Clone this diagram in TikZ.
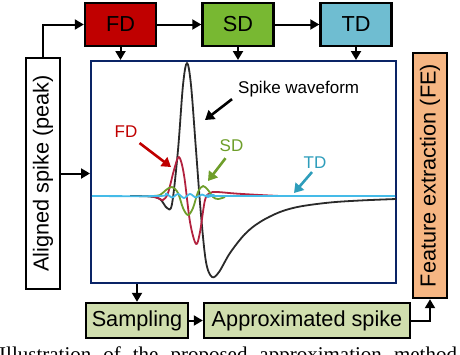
\documentclass[tikz,border=0pt]{standalone}
\usepackage{fontspec}
\setmainfont{Liberation Sans}
\newfontfamily\capfont{Liberation Serif}
\usetikzlibrary{arrows.meta,positioning}
\definecolor{fdred}{HTML}{C00000}
\definecolor{sdgreen}{HTML}{78B832}
\definecolor{tdblue}{HTML}{6FBDD1}
\definecolor{smpgreen}{HTML}{D0DEAE}
\definecolor{feorange}{HTML}{F6B683}
\definecolor{frameblue}{HTML}{0A2466}
\definecolor{wavered}{HTML}{B2223F}
\definecolor{wavegreen}{HTML}{6E9E2A}
\definecolor{wavecyan}{HTML}{45BBE8}
\definecolor{tdlabel}{HTML}{2E9DBB}
\definecolor{waveblack}{HTML}{2A2A2A}
\tikzset{
  blk/.style={
    draw,
    line width=2.4pt,
    inner sep=0pt,
    font=\fontsize{21.7}{24}\selectfont
  },
  link/.style={
    line width=2pt,
    -{Triangle[length=9pt,width=10pt]}
  },
  pointer/.style={
    line width=2.6pt,
    -{Triangle[length=9pt,width=11pt]}
  },
  wave/.style={
    line width=1.8pt,
    line join=round
  },
  tag/.style={
    font=\fontsize{17}{19}\selectfont,
    inner sep=0pt
  },
}

\begin{document}
\begin{tikzpicture}[x=1pt,y=-1pt]
\useasboundingbox (0,0) rectangle (460,354);
\clip (0,0) rectangle (460,354);
% blocks
\foreach \n/\x/\c/\t in {fd/120.5/fdred/FD,sd/238/sdgreen/SD,td/356/tdblue/TD}
  \node[blk, fill=\c, minimum width=71, minimum height=43] (\n) at (\x,24.5) {\t};
\node[draw=frameblue, line width=2pt, minimum width=305, minimum height=222] (plot) at (243.5,172) {};
\node[blk, fill=white, rotate=90, minimum width=231, minimum height=34] (al) at (43,173.5) {Aligned spike (peak)};
\node[blk, fill=feorange, rotate=90, minimum width=245, minimum height=34] (fe) at (430,175.5) {Feature extraction (FE)};
\node[blk, fill=smpgreen, minimum width=102, minimum height=35] (smp) at (137,320.5) {Sampling};
\node[blk, fill=smpgreen, minimum width=206, minimum height=35] (apx) at (307,320.5) {Approximated spike};
% links
\draw[link] (al.east) |- (fd.west);
\draw[link] (fd) -- (sd);
\draw[link] (sd) -- (td);
\foreach \n in {fd,sd,td}
  \draw[link] (\n.south) -- (\n.south |- plot.north);
\draw[link] (al.south) -- (al.south -| plot.west);
\draw[link] (smp.north |- plot.south) -- (smp.north);
\draw[link] (smp) -- (apx);
\draw[link] (apx.east) -| (fe.west);
% waveforms
\draw[wave, waveblack] plot[smooth, tension=0.55] coordinates {(130,196) (150,196.5) (160,199) (167,208) (172,204) (178,150) (183,85) (187,63) (191,85) (196,150) (201,215) (206,262) (212,277) (219,272) (230,253) (245,234) (260,222) (280,212) (300,206.5) (330,202.5) (360,200.5) (396,199)};
\draw[wave, wavered] plot[smooth, tension=0.55] coordinates {(150,196) (158,198) (163,200) (168,193) (174,170) (179,157) (184,175) (190,222) (196,244) (200,232) (205,200) (210,193) (217,192) (235,193.5) (260,195) (280,196)};
\draw[wave, wavegreen] plot[smooth, tension=0.55] coordinates {(152,196) (160,195) (166,190) (172,187) (178,193) (183,208) (188,215) (193,208) (198,192) (203,186) (208,190) (213,197) (218,199) (225,197)};
\draw[wave, wavecyan] plot[smooth, tension=0.55] coordinates {(92,196) (160,196) (166,193.5) (172,197.5) (178,194) (184,198) (190,194) (196,197.5) (202,194.5) (208,197) (214,195) (220,196) (395,196)};
% labels
\node[tag, anchor=west] (spk) at (238,89) {Spike waveform};
\node[tag, text=fdred] (fdl) at (126,132) {FD};
\node[tag, text=wavegreen] (sdl) at (231.5,146) {SD};
\node[tag, text=tdlabel] (tdl) at (315,163) {TD};
\coordinate (spkhd) at (205,120);
\coordinate (fdhd) at (171,167);
\coordinate (sdhd) at (208,181);
\coordinate (tdhd) at (294,193);
\draw[pointer] ([xshift=-6pt,yshift=-2pt]spk.south west) -- (spkhd);
\draw[pointer, fdred] ([xshift=2pt,yshift=-5pt]fdl.south east) -- (fdhd);
\draw[pointer, wavegreen] ([xshift=-6pt,yshift=-6pt]sdl.south) -- (sdhd);
\draw[pointer, tdlabel] ([xshift=-3pt,yshift=-3pt]tdl.south) -- (tdhd);
% caption
\node[anchor=north west, inner sep=0pt, font=\capfont\fontsize{21}{24}\selectfont] (cap) at (-1,346.5) {\spaceskip=12pt Illustration of the proposed approximation method};
\end{tikzpicture}
\end{document}
